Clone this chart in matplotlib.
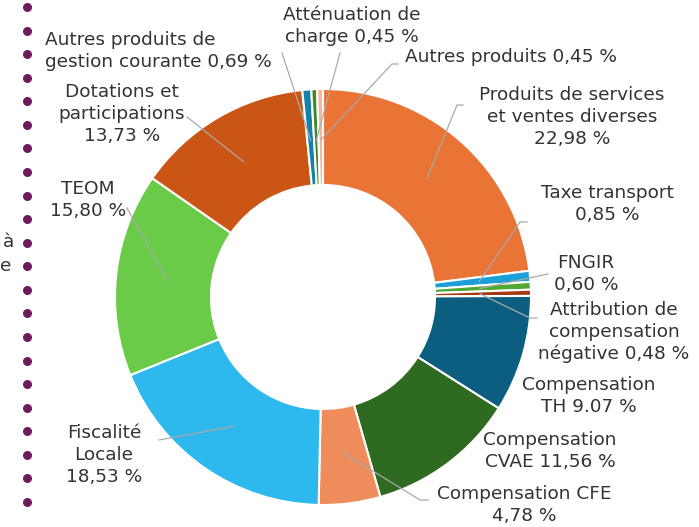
import numpy as np
import matplotlib
matplotlib.use("Agg")
import matplotlib.pyplot as plt

# Data: budget share by revenue category (clockwise from top)
labels = ["Produits de services\net ventes diverses", "Taxe transport", "FNGIR",
          "Attribution de\ncompensation\nnégative", "Compensation\nTH", "Compensation\nCVAE",
          "Compensation CFE", "Fiscalité\nLocale", "TEOM", "Dotations et\nparticipations",
          "Autres produits de\ngestion courante", "Atténuation de\ncharge", "Autres produits"]
values = [22.98, 0.85, 0.60, 0.48, 9.07, 11.56, 4.78, 18.53, 15.80, 13.73, 0.69, 0.45, 0.45]
pct_text = ["22,98 %", "0,85 %", "0,60 %", "0,48 %", "9.07 %", "11,56 %", "4,78 %",
            "18,53 %", "15,80 %", "13,73 %", "0,69 %", "0,45 %", "0,45 %"]
colors = ["#e97436", "#1a9fd9", "#4ea832", "#a33b0f", "#0b5e80", "#2e6a1f", "#ef8c5c",
          "#2db8ee", "#6acb48", "#cb5515", "#1680ad", "#3b8b26", "#f6b59b"]

# how the percentage joins the name: new line or same line
joiner = ["\n", "\n", "\n", " ", " ", " ", "\n", "\n", "\n", "\n", " ", " ", " "]

# label layout in pixels (x, y from top), alignment, leader line end points
lab_pos = [(572, 117, "center"), (607, 204, "center"), (586, 274, "center"),
           (614, 332, "center"), (589, 396, "center"), (550, 451, "center"),
           (524, 505, "center"), (104, 455, "center"), (88, 200, "center"),
           (122, 114, "center"), (45, 51, "left"), (352, 26, "center"), (405, 57, "left")]
leader = [[(457, 105), (463, 105)], [(520, 222), (527, 222)], [(548, 274)],
          [(530, 318), (537, 318)], None, None, [(420, 500), (428, 500)],
          [(159, 440)], [(127, 208)], [(187, 117)], [(282, 53)], [(340, 53)],
          [(392, 64), (398, 64)]]

W, H = 699, 527
cx, cy, R = 323, H - 297, 208

fig = plt.figure(figsize=(W / 100, H / 100), dpi=100)
ax = fig.add_axes([0, 0, 1, 1])

wedges, _ = ax.pie(values, colors=colors, startangle=90, counterclock=False,
                   center=(cx, cy), radius=R,
                   wedgeprops=dict(width=96, edgecolor="white", linewidth=1.5))
ax.set_xlim(0, W)
ax.set_ylim(0, H)
ax.axis("off")

for w, txt, pct, j, (lx, ly, ha), pts in zip(wedges, labels, pct_text, joiner, lab_pos, leader):
    ax.text(lx, H - ly, txt + j + pct, ha=ha, va="center", multialignment=ha,
            fontsize=13.3, color="#333333", linespacing=1.27, family="DejaVu Sans")
    if pts is None:
        continue
    ang = np.deg2rad((w.theta1 + w.theta2) / 2)
    xs = [cx + 0.755 * R * np.cos(ang)] + [p[0] for p in pts]
    ys = [cy + 0.755 * R * np.sin(ang)] + [H - p[1] for p in pts]
    ax.plot(xs, ys, color="#aaaaaa", lw=0.9)

# decorative dotted rule on the left edge, with cut-off text
ax.scatter(np.full(22, 27), H - np.linspace(7, 502, 22), s=30, color="#6d1b5f", zorder=3)
ax.text(3, H - 242, "à", fontsize=13.3, color="#333333", va="center", family="DejaVu Sans")
ax.text(0, H - 266, "e", fontsize=13.3, color="#333333", va="center", family="DejaVu Sans")

fig.savefig("out.png", dpi=100)
